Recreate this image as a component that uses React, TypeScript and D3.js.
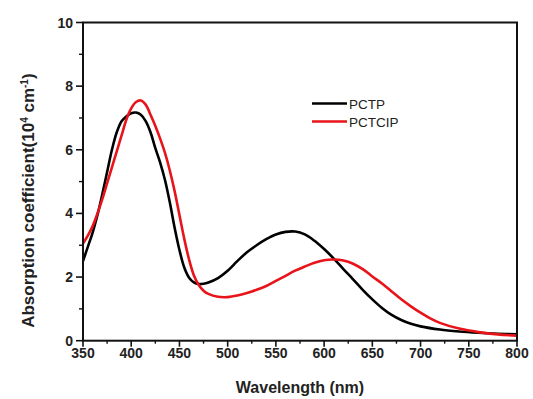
import React from "react";
import * as d3 from "d3";

const wavelengthsA = [350, 355, 360, 365, 370, 375, 380, 385, 390, 395, 400, 405, 410, 415, 420, 425, 430, 435, 440, 445, 450, 455, 460, 465, 470, 475, 480, 490, 500, 510, 520, 530, 540, 550, 560, 570, 580, 590, 600, 610, 620, 630, 640, 650, 660, 670, 680, 690, 700, 720, 740, 760, 780, 800];
const pctp = [2.5, 2.95, 3.4, 3.95, 4.6, 5.3, 6.0, 6.55, 6.9, 7.05, 7.15, 7.17, 7.1, 6.9, 6.55, 6.05, 5.6, 5.05, 4.35, 3.55, 2.85, 2.3, 1.98, 1.83, 1.78, 1.79, 1.83, 1.97, 2.2, 2.5, 2.78, 3.0, 3.19, 3.34, 3.42, 3.43, 3.34, 3.14, 2.88, 2.58, 2.25, 1.93, 1.6, 1.3, 1.03, 0.81, 0.65, 0.53, 0.45, 0.35, 0.29, 0.25, 0.22, 0.2];
const wavelengthsB = [350, 355, 360, 365, 370, 375, 380, 385, 390, 395, 400, 405, 410, 415, 420, 425, 430, 435, 440, 445, 450, 455, 460, 465, 470, 475, 480, 490, 500, 510, 520, 530, 540, 550, 560, 570, 580, 590, 600, 610, 620, 630, 640, 650, 660, 670, 680, 690, 700, 710, 720, 740, 760, 780, 800];
const pctcip = [3.05, 3.3, 3.6, 4.0, 4.45, 4.95, 5.45, 5.95, 6.45, 6.95, 7.3, 7.5, 7.55, 7.42, 7.1, 6.75, 6.35, 5.9, 5.35, 4.7, 3.95, 3.2, 2.55, 2.05, 1.75, 1.57, 1.47, 1.38, 1.37, 1.42, 1.5, 1.6, 1.72, 1.88, 2.04, 2.2, 2.33, 2.45, 2.53, 2.55, 2.52, 2.42, 2.25, 2.02, 1.8, 1.55, 1.3, 1.08, 0.88, 0.7, 0.56, 0.38, 0.27, 0.2, 0.16];

const xTicks = [350, 400, 450, 500, 550, 600, 650, 700, 750, 800];
const yTicks = [0, 2, 4, 6, 8, 10];
const seriesNames = ["PCTP", "PCTCIP"];
const seriesColors = ["#000000", "#e8141a"];

export default function App() {
  const W = 533, H = 399;
  const left = 83, right = 517, top = 22.5, bottom = 340.7;
  const x = d3.scaleLinear().domain([350, 800]).range([left, right]);
  const y = d3.scaleLinear().domain([0, 10]).range([bottom, top]);
  const line = (xs: number[], ys: number[]) =>
    d3.line<number>().x((_, i) => x(xs[i])).y((d) => y(d)).curve(d3.curveCatmullRom.alpha(0.5))(ys) || "";

  const xMinor = d3.range(375, 800, 50);
  const yMinor = d3.range(1, 10, 2);
  const font = "'Liberation Sans', Arial, sans-serif";

  return (
    <svg width={W} height={H} style={{ position: "absolute", left: 0, top: 0 }} fontFamily={font}>
      <rect width={W} height={H} fill="#fff" />
      <defs>
        <clipPath id="clip">
          <rect x={left} y={top} width={right - left} height={bottom - top} />
        </clipPath>
      </defs>
      <g clipPath="url(#clip)">
        <path d={line(wavelengthsA, pctp)} fill="none" stroke={seriesColors[0]} strokeWidth={2.6} />
        <path d={line(wavelengthsB, pctcip)} fill="none" stroke={seriesColors[1]} strokeWidth={2.6} />
      </g>
      <rect x={left} y={top} width={right - left} height={bottom - top} fill="none" stroke="#111" strokeWidth={2} />
      {xTicks.map((t) => (
        <g key={"xt" + t}>
          <line x1={x(t)} x2={x(t)} y1={bottom} y2={bottom + 6} stroke="#111" strokeWidth={1.6} />
          <text x={x(t)} y={bottom + 17} textAnchor="middle" fontSize={14} fontWeight="bold" fill="#222">{t}</text>
        </g>
      ))}
      {xMinor.map((t) => (
        <line key={"xm" + t} x1={x(t)} x2={x(t)} y1={bottom} y2={bottom + 3} stroke="#111" strokeWidth={1.4} />
      ))}
      {yTicks.map((t) => (
        <g key={"yt" + t}>
          <line x1={left - 7} x2={left} y1={y(t)} y2={y(t)} stroke="#111" strokeWidth={1.6} />
          <text x={left - 10} y={y(t) + 5} textAnchor="end" fontSize={14} fontWeight="bold" fill="#222">{t}</text>
        </g>
      ))}
      {yMinor.map((t) => (
        <line key={"ym" + t} x1={left - 4} x2={left} y1={y(t)} y2={y(t)} stroke="#111" strokeWidth={1.4} />
      ))}
      <text x={(left + right) / 2} y={393} textAnchor="middle" fontSize={16} fontWeight="bold" fill="#222">Wavelength (nm)</text>
      <text transform={`translate(34, ${(top + bottom) / 2 + 19}) rotate(-90)`} textAnchor="middle" fontSize={17} fontWeight="bold" fill="#222">
        Absorption coefficient(10<tspan dy={-6} fontSize={10}>4</tspan><tspan dy={6}> cm</tspan><tspan dy={-6} fontSize={10}>-1</tspan><tspan dy={6}>)</tspan>
      </text>
      {seriesNames.map((n, i) => (
        <g key={n}>
          <line x1={312} x2={347} y1={103.5 + i * 18} y2={103.5 + i * 18} stroke={seriesColors[i]} strokeWidth={2.6} />
          <text x={349} y={108.5 + i * 18} fontSize={13.5} fill="#222">{n}</text>
        </g>
      ))}
    </svg>
  );
}
